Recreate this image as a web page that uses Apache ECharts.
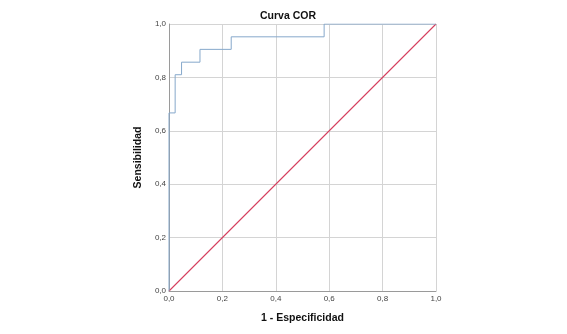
<!DOCTYPE html>
<html>
<head>
<meta charset="utf-8">
<script src="https://cdn.jsdelivr.net/npm/echarts@6/dist/echarts.min.js"></script>
<style>html,body{margin:0;padding:0;background:#fff}#c{width:567px;height:334px}</style>
</head>
<body>
<div id="c"></div>
<script>
// ROC curve coordinates (1 - specificity, sensitivity)
const rocFPR = [0, 0, 0.023, 0.023, 0.047, 0.047, 0.116, 0.116, 0.233, 0.233, 0.581, 0.581, 1.0];
const rocTPR = [0, 0.667, 0.667, 0.810, 0.810, 0.857, 0.857, 0.905, 0.905, 0.952, 0.952, 1.0, 1.0];
// Reference diagonal
const diagX = [0, 0.5, 1];
const diagY = [0, 0.5, 1];
const titleText = 'Curva COR';
const xName = '1 - Especificidad';
const yName = 'Sensibilidad';

const fmt = v => v.toFixed(1).replace('.', ',');
const font = '"Liberation Sans", Arial, sans-serif';

const chart = echarts.init(document.getElementById('c'), null, {renderer: 'canvas'});
const axisCommon = {
  type: 'value', min: 0, max: 1, interval: 0.2,
  axisLine: {show: true, lineStyle: {color: '#9a9a9a', width: 1}},
  axisTick: {show: false},
  splitLine: {show: true, lineStyle: {color: '#d4d4d4', width: 1}},
  axisLabel: {formatter: fmt, color: '#444', fontSize: 8, fontFamily: font},
  nameLocation: 'middle',
  nameTextStyle: {fontWeight: 'bold', fontSize: 10.5, color: '#111', fontFamily: font}
};
chart.setOption({
  animation: false,
  title: {text: titleText, left: 255, top: 6,
    textStyle: {fontWeight: 'bold', fontSize: 10.5, color: '#111', fontFamily: font}},
  grid: {left: 169, top: 24, width: 267, height: 267, containLabel: false},
  xAxis: Object.assign({}, axisCommon, {name: xName, nameGap: 22,
    axisLabel: Object.assign({}, axisCommon.axisLabel, {margin: 4})}),
  yAxis: Object.assign({}, axisCommon, {name: yName, nameGap: 25,
    axisLabel: Object.assign({}, axisCommon.axisLabel, {margin: 3})}),
  series: [
    {type: 'line', name: 'ref', data: diagX.map((x, i) => [x, diagY[i]]), showSymbol: false, symbol: 'none',
     itemStyle: {color: '#d6405f'},
     lineStyle: {color: '#d6405f', width: 1.1}, z: 2},
    {type: 'line', name: 'roc', data: rocFPR.map((x, i) => [x, rocTPR[i]]), showSymbol: false, symbol: 'none',
     itemStyle: {color: '#86a8cb'},
     lineStyle: {color: '#86a8cb', width: 1}, z: 3}
  ]
});
</script>
</body>
</html>
